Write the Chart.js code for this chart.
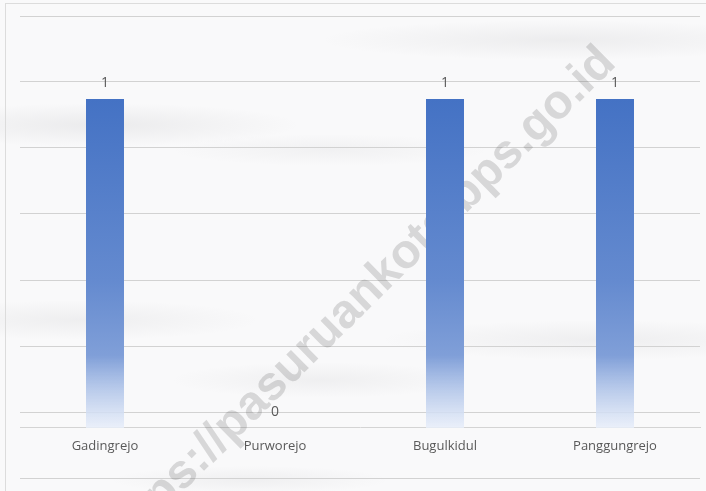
<!DOCTYPE html>
<html>
<head>
<meta charset="utf-8">
<script src="https://cdn.jsdelivr.net/npm/chart.js@4.4.0/dist/chart.umd.min.js"></script>
<style>
    html, body { margin: 0; padding: 0; }
    body {
        width: 706px;
        height: 491px;
        overflow: hidden;
        background-color: #f9f9fa;
        background-image:
            radial-gradient(ellipse 200px 22px at 100px 125px, rgba(110,110,115,0.10), transparent),
            radial-gradient(ellipse 240px 20px at 560px 40px, rgba(110,110,115,0.09), transparent),
            radial-gradient(ellipse 180px 20px at 80px 320px, rgba(110,110,115,0.08), transparent),
            radial-gradient(ellipse 150px 18px at 320px 380px, rgba(110,110,115,0.07), transparent),
            radial-gradient(ellipse 220px 20px at 600px 340px, rgba(110,110,115,0.08), transparent),
            radial-gradient(ellipse 160px 16px at 330px 150px, rgba(110,110,115,0.06), transparent),
            radial-gradient(ellipse 140px 14px at 250px 480px, rgba(110,110,115,0.07), transparent);
    }
    #wrap { position: relative; width: 706px; height: 491px; }
    #frame {
        position: absolute; left: 5px; top: 3px; right: 0; bottom: 0;
        border-left: 1px solid #dcdcdc; border-top: 1px solid #dcdcdc;
    }
    canvas { position: absolute; left: 0; top: 0; }
</style>
</head>
<body>
<div id="wrap">
    <div id="frame"></div>
    <canvas id="bar-chart" width="706" height="491"></canvas>
</div>
<script>
const categories = ["Gadingrejo", "Purworejo", "Bugulkidul", "Panggungrejo"];
const values = [1, 0, 1, 1];
// grid lines in the source are not aligned with zero, so they sit at these values
const grid_values = [-0.152, 0.0486, 0.2492, 0.4498, 0.6505, 0.8511, 1.0517, 1.2523];

const label_font = "'Open Sans', 'Liberation Sans', sans-serif";

const bar_gradient = function(context) {
    const chart = context.chart;
    if (!chart.chartArea) return "#4472c4";
    const y = chart.scales.y;
    const top = y.getPixelForValue(1);
    const bottom = y.getPixelForValue(0);
    const g = chart.ctx.createLinearGradient(0, top, 0, bottom);
    g.addColorStop(0, "rgb(68,114,196)");
    g.addColorStop(0.55, "rgb(100,138,207)");
    g.addColorStop(0.78, "rgb(128,159,216)");
    g.addColorStop(0.88, "rgba(176,196,232,0.9)");
    g.addColorStop(1, "rgba(232,238,249,0.85)");
    return g;
};

const value_labels = {
    id: "value_labels",
    afterDatasetsDraw: function(chart) {
        const ctx = chart.ctx;
        const meta = chart.getDatasetMeta(0);
        ctx.save();
        ctx.fillStyle = "#595959";
        ctx.font = "14px " + label_font;
        ctx.textAlign = "center";
        ctx.textBaseline = "middle";
        meta.data.forEach(function(bar, i) {
            ctx.fillText(values[i], bar.x, bar.y - 16);
        });
        ctx.restore();
    }
};

// site watermark, sits behind the bars
const watermark = {
    id: "watermark",
    beforeDatasetsDraw: function(chart) {
        const ctx = chart.ctx;
        ctx.save();
        ctx.translate(358, 301);
        ctx.rotate(-44.5 * Math.PI / 180);
        ctx.font = "bold 48px 'Liberation Sans', Arial, sans-serif";
        ctx.fillStyle = "rgba(80,80,80,0.2)";
        ctx.textAlign = "center";
        ctx.textBaseline = "middle";
        ctx.fillText("https://pasuruankota.bps.go.id", 0, 0);
        ctx.restore();
    }
};

const bar_chart = new Chart(document.getElementById("bar-chart"), {
    type: "bar",
    data: {
        labels: categories,
        datasets: [{
            data: values,
            backgroundColor: bar_gradient,
            borderWidth: 0,
            categoryPercentage: 1,
            barPercentage: 0.2235
        }]
    },
    options: {
        responsive: false,
        animation: false,
        layout: {
            padding: { left: 20, right: 6, top: 16, bottom: 13 }
        },
        plugins: {
            legend: { display: false },
            tooltip: { enabled: false }
        },
        scales: {
            x: {
                position: { y: 0 },
                grid: { display: false, drawTicks: false },
                border: { display: true, color: "#d4d4d4", width: 1 },
                ticks: {
                    color: "#595959",
                    padding: 11,
                    maxRotation: 0,
                    font: { family: label_font, size: 13 }
                }
            },
            y: {
                min: grid_values[0],
                max: grid_values[grid_values.length - 1],
                afterBuildTicks: function(scale) {
                    scale.ticks = grid_values.map(v => ({ value: v }));
                },
                grid: { color: "#d2d2d2", lineWidth: 1, drawTicks: false },
                border: { display: false },
                ticks: { display: false }
            }
        }
    },
    plugins: [value_labels, watermark]
});
</script>
</body>
</html>
